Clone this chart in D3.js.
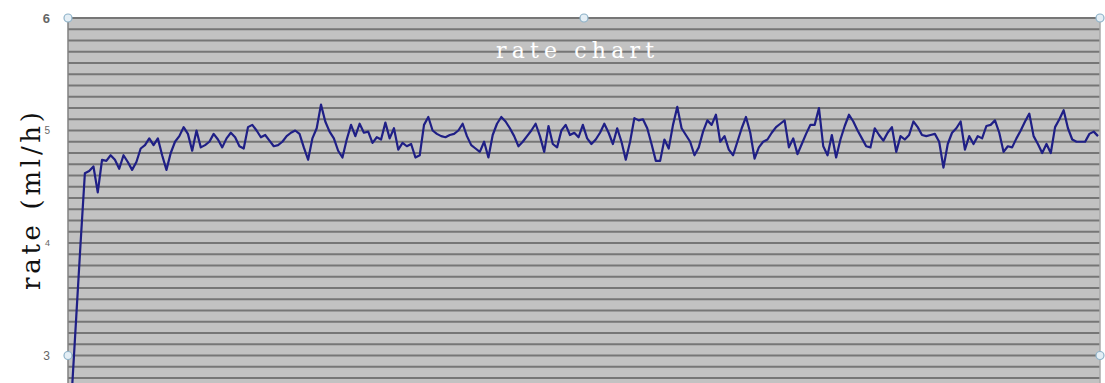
<!DOCTYPE html>
<html><head><meta charset="utf-8">
<script src="https://cdn.jsdelivr.net/npm/d3@7"></script>
<style>html,body{margin:0;padding:0;background:#fff;}svg{display:block;}</style>
</head><body>
<svg id="chart" width="1105" height="383"></svg>
<script>
const chartTitle = "rate chart";
const yAxisTitle = "rate (ml/h)";
const yTickValues = [3, 4, 5, 6];
const yTickLabels = ["3", "4", "5", "6"];
const rateValues = [
 2.7,3.35,4.0,4.62,4.64,4.68,4.45,4.74,4.73,4.78,
 4.74,4.66,4.78,4.72,4.65,4.72,4.84,4.87,4.93,4.87,
 4.93,4.78,4.65,4.8,4.9,4.95,5.03,4.97,4.82,5.0,
 4.85,4.87,4.9,4.97,4.92,4.85,4.93,4.98,4.94,4.86,
 4.84,5.03,5.05,5.0,4.94,4.96,4.91,4.86,4.87,4.9,
 4.95,4.98,5.0,4.97,4.85,4.74,4.93,5.02,5.23,5.08,
 4.99,4.93,4.82,4.76,4.92,5.05,4.95,5.06,4.98,4.99,
 4.89,4.94,4.92,5.07,4.93,5.02,4.83,4.89,4.86,4.88,
 4.76,4.78,5.05,5.12,5.0,4.97,4.95,4.94,4.96,4.97,
 5.0,5.06,4.95,4.87,4.84,4.81,4.9,4.76,4.96,5.06,
 5.12,5.08,5.02,4.95,4.86,4.9,4.95,5.0,5.06,4.95,
 4.81,5.04,4.88,4.85,5.0,5.05,4.96,4.98,4.94,5.05,
 4.93,4.88,4.92,4.98,5.06,4.98,4.88,5.02,4.9,4.74,
 4.9,5.11,5.09,5.1,5.02,4.88,4.73,4.73,4.92,4.84,
 5.05,5.21,5.02,4.96,4.9,4.78,4.85,4.99,5.09,5.05,
 5.14,4.9,4.95,4.83,4.78,4.9,5.02,5.12,4.98,4.75,
 4.85,4.9,4.92,4.98,5.03,5.06,5.09,4.85,4.93,4.79,
 4.88,4.97,5.05,5.05,5.2,4.86,4.78,4.96,4.76,4.92,
 5.04,5.14,5.08,5.0,4.93,4.86,4.85,5.02,4.96,4.91,
 4.98,5.03,4.81,4.95,4.92,4.96,5.08,5.03,4.96,4.95,
 4.96,4.97,4.9,4.67,4.88,4.98,5.02,5.08,4.83,4.95,
 4.88,4.95,4.93,5.04,5.05,5.09,4.98,4.81,4.86,4.85,
 4.93,5.0,5.08,5.15,4.95,4.88,4.8,4.88,4.8,5.03,
 5.1,5.18,5.02,4.92,4.9,4.9,4.9,4.97,4.99,4.95
];

const svg = d3.select("#chart");
const plot = {left: 68, right: 1100, top: 18, bottom: 400};

const y = d3.scaleLinear().domain([3, 6]).range([355.5, 18]);
const x = d3.scaleLinear().domain([0, rateValues.length - 1]).range([72, 1098]);

svg.append("defs").append("clipPath").attr("id", "clip")
  .append("rect").attr("x", plot.left).attr("y", plot.top)
  .attr("width", plot.right - plot.left).attr("height", plot.bottom - plot.top);

// plot background
svg.append("rect")
  .attr("x", plot.left).attr("y", plot.top)
  .attr("width", plot.right - plot.left).attr("height", plot.bottom - plot.top)
  .attr("fill", "#c2c2c2");

// gridlines every 0.1
const gridVals = d3.range(0, 33).map(i => +(6 - i * 0.1).toFixed(2));
svg.append("g").selectAll("line").data(gridVals).join("line")
  .attr("x1", plot.left).attr("x2", plot.right)
  .attr("y1", d => y(d)).attr("y2", d => y(d))
  .attr("stroke", "#767676").attr("stroke-width", 2);

// left axis line and right border
svg.append("line").attr("x1", plot.left).attr("x2", plot.left)
  .attr("y1", plot.top).attr("y2", plot.bottom)
  .attr("stroke", "#808080").attr("stroke-width", 1.5);
svg.append("line").attr("x1", plot.right).attr("x2", plot.right)
  .attr("y1", plot.top).attr("y2", plot.bottom)
  .attr("stroke", "#a8a8a8").attr("stroke-width", 1.5);

// data line
const line = d3.line().x((d, i) => x(i)).y(d => y(d));
svg.append("path").datum(rateValues)
  .attr("clip-path", "url(#clip)")
  .attr("d", line)
  .attr("fill", "none")
  .attr("stroke", "#1f1f86")
  .attr("stroke-width", 2.2)
  .attr("stroke-linejoin", "round");

// y axis tick labels
const tickSizes = {3: 12, 4: 9, 5: 10, 6: 13};
const yAxis = d3.axisLeft(y).tickValues(yTickValues)
  .tickFormat((d, i) => yTickLabels[i]).tickSize(0).tickPadding(18);
const ag = svg.append("g").attr("transform", `translate(${plot.left},0)`).call(yAxis);
ag.select(".domain").remove();
ag.selectAll("text")
  .attr("fill", "#666")
  .style("font-family", "Liberation Sans, Arial, sans-serif")
  .style("font-weight", d => d === 6 ? "bold" : "normal")
  .style("font-size", d => tickSizes[d] + "px");

// selection handles
const handles = [[plot.left, 6], [(plot.left + plot.right) / 2, 6], [plot.right, 6], [plot.left, 3], [plot.right, 3]];
svg.append("g").selectAll("circle").data(handles).join("circle")
  .attr("cx", d => d[0]).attr("cy", d => y(d[1])).attr("r", 4)
  .attr("fill", "#e4eef5").attr("stroke", "#8eb2c8").attr("stroke-width", 1.2);

// title
svg.append("text")
  .attr("x", 575).attr("y", 58)
  .attr("text-anchor", "middle")
  .attr("textLength", 158).attr("lengthAdjust", "spacing")
  .attr("fill", "#ffffff")
  .style("font-family", "DejaVu Serif, serif")
  .style("font-size", "22px")
  .text(chartTitle);

// y axis title
svg.append("text")
  .attr("transform", "translate(40,201) rotate(-90)")
  .attr("text-anchor", "middle")
  .attr("textLength", 178).attr("lengthAdjust", "spacing")
  .attr("fill", "#111")
  .style("font-family", "DejaVu Serif, serif")
  .style("font-size", "26px")
  .text(yAxisTitle);
</script>
</body></html>
